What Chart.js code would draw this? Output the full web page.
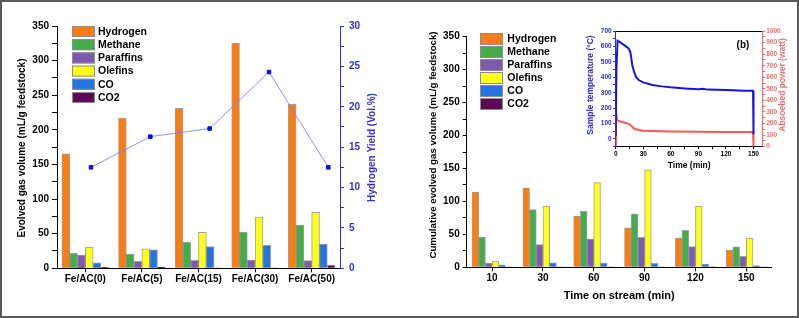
<!DOCTYPE html>
<html><head><meta charset="utf-8">
<script src="https://cdn.jsdelivr.net/npm/chart.js@4.4.1/dist/chart.umd.min.js"></script>
<style>
html,body{margin:0;padding:0;background:#fff;}
#wrap{position:relative;width:799px;height:318px;overflow:hidden;background:#fff;}
canvas{position:absolute;}
#frame{position:absolute;left:0;top:0;width:799px;height:318px;box-sizing:border-box;border:2px solid #5a5a5a;pointer-events:none;}
</style></head><body>
<div id="wrap">
<canvas id="c1" width="400" height="318" style="left:0;top:0;"></canvas>
<canvas id="c1line" width="400" height="318" style="left:0;top:0;"></canvas>
<canvas id="c2" width="399" height="318" style="left:400px;top:0;"></canvas>
<canvas id="c3" width="229" height="157" style="left:570px;top:18px;"></canvas>
<div id="frame"></div>
</div>
<script>
// ---- Panel (a): gas volume by catalyst ----
const catsA = ['Fe/AC(0)','Fe/AC(5)','Fe/AC(15)','Fe/AC(30)','Fe/AC(50)'];
const hydrogenA = [165.5, 217, 231, 325.5, 237];
const methaneA  = [21.5, 20.5, 37.5, 52.5, 62.5];
const paraffinA = [19, 10, 11.5, 12, 11];
const olefinA   = [30.5, 28, 52, 74, 81];
const coA       = [8, 26.5, 31.5, 33, 35];
const co2A      = [1.8, 1.9, 0.5, 0.3, 4.5];
const yieldA    = [12.5, 16.3, 17.3, 24.3, 12.5];
const yieldPosA = [0, 1, 2, 3, 4];

// ---- Panel (b): cumulative gas volume by time on stream ----
const catsB = ['10','30','60','90','120','150'];
const hydrogenB = [114, 120.5, 77.5, 60, 44.5, 26];
const methaneB  = [46, 87.5, 85, 81, 56, 31];
const paraffinB = [6.3, 34.5, 43, 45.5, 31.5, 16.5];
const olefinB   = [9.3, 92.8, 128.5, 148, 93, 44.5];
const coB       = [3.8, 6.8, 6.5, 6, 5, 2.5];
const co2B      = [0.4, 0.8, 0.4, 0.4, 0.9, 0.3];

// ---- Inset: temperature and absorbed power ----
const tempTime  = [0, 0.8, 2, 5, 10, 14, 16, 17, 18, 20, 22, 25, 30, 40, 50, 60, 75, 90, 95, 100, 120, 140, 149.5, 150];
const tempValue = [20, 450, 637, 626, 605, 587, 562, 523, 480, 436, 404, 382, 367, 350, 341, 335, 328, 322, 326, 320, 317, 313, 313, 30];
const powTime   = [0, 0.3, 1.5, 5, 10, 15, 18, 20, 25, 30, 40, 60, 90, 120, 149.5, 150];
const powValue  = [0, 310, 230, 218, 207, 195, 172, 155, 144, 138, 135, 132, 129, 126, 126, 0];

const seriesNames = ['Hydrogen','Methane','Paraffins','Olefins','CO','CO2'];
const seriesColors = ['#fb7d12','#43ad49','#7d5ab0','#ffff1a','#2374e1','#5c0a55'];

const FONT = '"Liberation Sans", Arial, sans-serif';
Chart.defaults.font.family = FONT;
Chart.defaults.font.weight = 'bold';
Chart.defaults.color = '#000';
Chart.defaults.animation = false;
Chart.defaults.plugins.legend.display = false;
Chart.defaults.plugins.tooltip.enabled = false;

const BLUE = '#3030d8';
const IBLUE = '#2a2ad8';
const IRED = '#f06a6a';

// vertical list legend drawn on the canvas
const boxLegend = {
  id: 'boxLegend',
  afterDraw(chart, args, o) {
    if (!o || o.x === undefined) return;
    const ctx = chart.ctx;
    ctx.save();
    let y = o.y;
    chart.data.datasets.forEach(ds => {
      ctx.fillStyle = ds.backgroundColor;
      ctx.fillRect(o.x, y, o.w, o.h);
      ctx.strokeStyle = '#8c8c8c';
      ctx.lineWidth = 1;
      ctx.strokeRect(o.x + 0.5, y + 0.5, o.w - 1, o.h - 1);
      ctx.fillStyle = '#000';
      ctx.font = 'bold ' + o.size + 'px ' + FONT;
      ctx.textBaseline = 'middle';
      ctx.textAlign = 'left';
      ctx.fillText(ds.label, o.textX, y + o.h / 2 + 0.5);
      y += o.row;
    });
    ctx.restore();
  }
};

// axis titles reading bottom-to-top, and free labels
const textMarks = {
  id: 'textMarks',
  afterDraw(chart, args, o) {
    if (!o || !o.items) return;
    const ctx = chart.ctx;
    o.items.forEach(t => {
      ctx.save();
      ctx.translate(t.x, t.y);
      if (t.rot) ctx.rotate(-Math.PI / 2);
      ctx.font = 'bold ' + t.size + 'px ' + FONT;
      ctx.fillStyle = t.color || '#000';
      ctx.textAlign = 'center';
      ctx.textBaseline = 'middle';
      ctx.fillText(t.text, 0, 0);
      ctx.restore();
    });
  }
};

function barSets(arrs, thickness) {
  return arrs.map((d, i) => ({
    type: 'bar', label: seriesNames[i], data: d,
    backgroundColor: seriesColors[i],
    borderColor: 'rgba(80,80,80,0.55)', borderWidth: 1,
    barThickness: thickness
  }));
}

const minorCb = (step) => (v) => (Math.abs(v % step) < 1e-9 ? v : '');

// ---------- Chart (a): bars and both axes ----------
new Chart(document.getElementById('c1'), {
  type: 'bar',
  data: {
    labels: catsA,
    datasets: barSets([hydrogenA, methaneA, paraffinA, olefinA, coA, co2A], 7.8)
  },
  options: {
    responsive: false,
    layout: {padding: {left: 0, top: 26, right: 0, bottom: 0}},
    plugins: {
      boxLegend: {x: 72, y: 26, w: 23, h: 11, row: 13.2, textX: 98, size: 10.5},
      textMarks: {items: [
        {text: 'Evolved gas volume (mL/g feedstock)', x: 22, y: 148, size: 10, rot: true},
        {text: 'Hydrogen Yield (Vol.%)', x: 372, y: 147.5, size: 10, rot: true, color: BLUE}
      ]}
    },
    scales: {
      x: {
        type: 'category', position: 'bottom', offset: true,
        grid: {display: true, drawOnChartArea: false, drawTicks: true, tickLength: 4, tickColor: '#000', offset: false},
        border: {color: '#000', width: 1},
        ticks: {font: {size: 10, weight: 'bold'}, color: '#000', padding: 1, maxRotation: 0, autoSkip: false},
        afterFit: s => { s.height = 49.7; }
      },
      y: {
        type: 'linear', position: 'left', min: 0, max: 350,
        ticks: {stepSize: 25, autoSkip: false, callback: minorCb(50), font: {size: 10, weight: 'bold'}, padding: 3, color: '#000'},
        grid: {drawOnChartArea: false, tickLength: 5, tickColor: '#000'},
        border: {color: '#000'},
        afterFit: s => { s.width = 57; }
      },
      y2: {
        type: 'linear', position: 'right', min: 0, max: 30,
        ticks: {stepSize: 2.5, autoSkip: false, callback: minorCb(5), color: BLUE, padding: 5, font: {size: 10, weight: 'bold'}},
        grid: {drawOnChartArea: false, tickLength: 4, tickColor: BLUE},
        border: {color: BLUE},
        afterFit: s => { s.width = 60; }
      }
    }
  },
  plugins: [boxLegend, textMarks]
});

// ---------- Chart (a) overlay: hydrogen yield line (same plot area, right-axis range 0-30) ----------
new Chart(document.getElementById('c1line'), {
  type: 'line',
  data: {
    datasets: [{
      label: 'Hydrogen Yield',
      data: yieldPosA.map((p, i) => ({x: p, y: yieldA[i]})),
      borderColor: 'rgba(125,125,250,0.85)', borderWidth: 1,
      pointStyle: 'rect', pointRadius: 2.5,
      pointBackgroundColor: '#0a0af0', pointBorderColor: '#0a0af0'
    }]
  },
  options: {
    responsive: false,
    layout: {padding: {left: 57, top: 26, right: 60, bottom: 49.7}},
    scales: {
      x: {type: 'linear', display: false, min: -0.573, max: 4.197},
      y: {type: 'linear', display: false, min: 0, max: 30}
    }
  }
});

// ---------- Chart (b) ----------
new Chart(document.getElementById('c2'), {
  type: 'bar',
  data: {
    labels: catsB,
    datasets: barSets([hydrogenB, methaneB, paraffinB, olefinB, coB, co2B], 6.7)
  },
  options: {
    responsive: false,
    layout: {padding: {left: 0, top: 36.7, right: 27.3, bottom: 0}},
    plugins: {
      boxLegend: {x: 80, y: 33, w: 23, h: 12, row: 13, textX: 107.3, size: 10.5},
      textMarks: {items: [
        {text: 'Cumulative evolved gas volume (mL/g feedstock)', x: 33, y: 145, size: 9.7, rot: true}
      ]}
    },
    scales: {
      x: {
        type: 'category', position: 'bottom', offset: true,
        grid: {display: true, drawOnChartArea: false, drawTicks: true, tickLength: 4, tickColor: '#000', offset: false},
        border: {color: '#000', width: 1},
        ticks: {font: {size: 10, weight: 'bold'}, color: '#000', padding: 1, maxRotation: 0, autoSkip: false},
        title: {display: true, text: 'Time on stream (min)', font: {size: 11, weight: 'bold'}, padding: {top: 0, bottom: 15.4}, color: '#000'},
        afterFit: s => { s.height = 50.7; }
      },
      y: {
        type: 'linear', position: 'left', min: 0, max: 350,
        ticks: {stepSize: 25, autoSkip: false, callback: minorCb(50), font: {size: 10, weight: 'bold'}, padding: 3, color: '#000'},
        grid: {drawOnChartArea: false, tickLength: 4, tickColor: '#000'},
        border: {color: '#000'},
        afterFit: s => { s.width = 66.7; }
      }
    }
  },
  plugins: [boxLegend, textMarks]
});

// ---------- Inset ----------
new Chart(document.getElementById('c3'), {
  type: 'line',
  data: {
    datasets: [
      {label: 'Sample temperature', data: tempTime.map((t, i) => ({x: t, y: tempValue[i]})),
       borderColor: '#1515e0', borderWidth: 2, pointRadius: 0, xAxisID: 'x', yAxisID: 'y'},
      {label: 'Absorbed power', data: powTime.map((t, i) => ({x: t, y: powValue[i]})),
       borderColor: 'rgba(255,70,70,0.9)', borderWidth: 2, pointRadius: 0, xAxisID: 'x', yAxisID: 'y2'}
    ]
  },
  options: {
    responsive: false,
    layout: {padding: {left: 0, top: 13, right: 0, bottom: 0}},
    plugins: {
      textMarks: {items: [
        {text: '(b)', x: 173, y: 27, size: 10},
        {text: 'Sample temperature (°C)', x: 20.7, y: 67, size: 8.5, rot: true, color: IBLUE},
        {text: 'Absoebed power (watt)', x: 213, y: 67, size: 8.5, rot: true, color: IRED}
      ]}
    },
    scales: {
      x: {
        type: 'linear', position: 'bottom', min: 0, max: 160,
        ticks: {stepSize: 15, includeBounds: false, autoSkip: false, maxRotation: 0, callback: v => (v % 30 === 0 && v <= 150 ? v : ''), font: {size: 6.5, weight: 'bold'}, padding: 1, color: '#000'},
        grid: {drawOnChartArea: false, tickLength: 2.5, tickColor: '#000'},
        border: {color: '#000'},
        title: {display: true, text: 'Time (min)', font: {size: 8.5, weight: 'bold'}, padding: {top: 0, bottom: 4.2}, color: '#000'},
        afterFit: s => { s.height = 28.3; }
      },
      xt: {
        type: 'linear', position: 'top', min: 0, max: 160,
        ticks: {display: false},
        grid: {drawOnChartArea: false, drawTicks: false},
        border: {color: '#000'},
        afterFit: s => { s.height = 0; }
      },
      y: {
        type: 'linear', position: 'left', min: -50, max: 700,
        ticks: {stepSize: 50, autoSkip: false, callback: v => (v >= 0 && v % 100 === 0 ? v : ''), color: IBLUE, font: {size: 6.5, weight: 'bold'}, padding: 1.5},
        grid: {drawOnChartArea: false, tickLength: 2.5, tickColor: IBLUE},
        border: {color: IBLUE},
        afterFit: s => { s.width = 45.7; }
      },
      y2: {
        type: 'linear', position: 'right', min: 0, max: 1000,
        ticks: {stepSize: 50, autoSkip: false, callback: v => (v % 100 === 0 ? v : ''), color: IRED, font: {size: 6.5, weight: 'bold'}, padding: 1},
        grid: {drawOnChartArea: false, tickLength: 2.5, tickColor: IRED},
        border: {color: IRED},
        afterFit: s => { s.width = 36.3; }
      }
    }
  },
  plugins: [textMarks]
});
</script>
</body></html>
